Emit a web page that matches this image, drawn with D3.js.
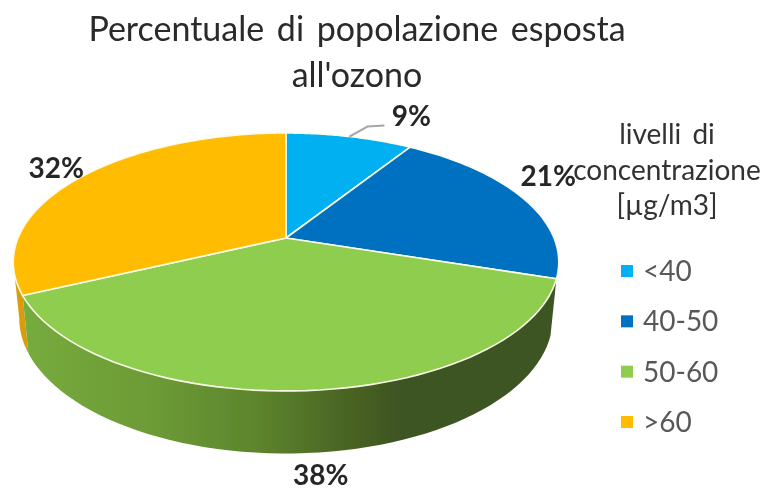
<!DOCTYPE html>
<html><head><meta charset="utf-8">
<style>html,body{margin:0;background:#fff}svg{display:block}text{font-family:Lato,"Open Sans",sans-serif}</style>
<script src="https://cdn.jsdelivr.net/npm/d3@7"></script></head><body><svg id="c" width="762" height="490"></svg>
<script>
const categories = ["<40","40-50","50-60",">60"];
const values = [9,21,38,32];
const colors = ["#00b0f0","#0070c0","#8ecd4d","#ffbc00"];
const titleLines = ["Percentuale di popolazione esposta","all'ozono"];
const legendTitle = ["livelli di","concentrazione","[µg/m3]"];

const svg = d3.select("#c");
const defs = svg.append("defs");
defs.append("filter").attr("id","soft").append("feGaussianBlur").attr("stdDeviation",0.45);
const root = svg.append("g").attr("filter","url(#soft)");

const arcs = d3.pie().sort(null).value(d=>d)(values);
// tilted disc: perspective projection of a unit circle
const cx=286, cy=238, a=268, b=124.5, k=0.186;
const proj = t => { const u=Math.sin(t), v=-Math.cos(t), w=1-k*v; return [cx+a*u/w, cy+b*v/w]; };
const low = ([x,y]) => [cx+(x-cx)*0.978, y*1.05+43];
const angles = (s,e) => d3.range(0,61).map(i=>s+(e-s)*i/60);
const line = d3.line();

const grad = defs.append("linearGradient").attr("id","wall").attr("gradientUnits","userSpaceOnUse")
  .attr("x1",25).attr("x2",400).attr("y1",0).attr("y2",0);
[[0,"#76ab3d"],[0.35,"#6c9a36"],[0.62,"#5d852d"],[0.85,"#4a6524"],[1,"#3e5420"]]
  .forEach(([o,c])=>grad.append("stop").attr("offset",o).attr("stop-color",c));

const wall=(s,e)=>{const t=angles(s,e).map(proj); return line(t.concat(t.map(low).reverse()))+"Z";};
const orangeWallEnd = 2*Math.PI*0.72;
root.append("path").attr("d",wall(arcs[3].startAngle,orangeWallEnd)).attr("fill","#d99c0a");
root.append("path").attr("d",wall(arcs[2].startAngle,arcs[2].endAngle)).attr("fill","url(#wall)");

root.selectAll("path.top").data(arcs).join("path").attr("class","top")
  .attr("d",d=>line([[cx,cy],...angles(d.startAngle,d.endAngle).map(proj)])+"Z")
  .attr("fill",(d,i)=>colors[i]).attr("stroke","#fbfbe8").attr("stroke-width",1.6).attr("stroke-linejoin","round");

// title
root.selectAll("text.t").data(titleLines).join("text").attr("class","t")
  .attr("x",357).attr("y",(d,i)=>41+i*46).attr("text-anchor","middle")
  .attr("font-size",34).attr("word-spacing",4).attr("fill","#2a2a2a").text(d=>d);

// leader
const lead = proj(arcs[0].endAngle*0.5);
root.append("path").attr("d",line([lead,[lead[0]+18,lead[1]-10],[lead[0]+35,lead[1]-11]]))
  .attr("fill","none").attr("stroke","#a6a6a6").attr("stroke-width",2);

// value labels
const labelOffsets=[[62,-20],[25,-22],[14,85],[-24,-9]];
root.selectAll("text.v").data(arcs).join("text").attr("class","v")
  .attr("transform",(d,i)=>{const p=proj((d.startAngle+d.endAngle)/2),o=labelOffsets[i];return `translate(${p[0]+o[0]},${p[1]+o[1]})`;})
  .attr("text-anchor","middle").attr("dy","0.35em").attr("font-size",28).attr("font-weight",700).attr("fill","#262626")
  .text(d=>d.data+"%");

// legend
root.selectAll("text.l").data(legendTitle).join("text").attr("class","l")
  .attr("x",667).attr("y",(d,i)=>144+i*35.5).attr("text-anchor","middle")
  .attr("font-size",28).attr("word-spacing",4).attr("fill","#333").text(d=>d);
const yL=d3.scalePoint().domain(categories).range([271,422]);
root.selectAll("rect.k").data(categories).join("rect").attr("class","k")
  .attr("x",621).attr("y",d=>yL(d)-6).attr("width",12).attr("height",12).attr("fill",(d,i)=>colors[i]);
root.selectAll("text.k").data(categories).join("text").attr("class","k")
  .attr("x",643).attr("y",d=>yL(d)+10).attr("font-size",28).attr("fill","#595959").text(d=>d);
</script></body></html>
